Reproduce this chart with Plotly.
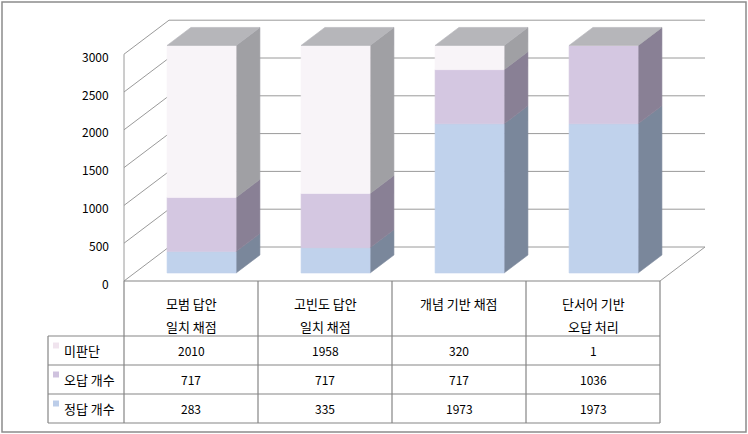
import plotly.graph_objects as go

# ---------------- data ----------------
categories = ["모범 답안\n일치 채점", "고빈도 답안\n일치 채점", "개념 기반 채점", "단서어 기반\n오답 처리"]
series_names = ["정답 개수", "오답 개수", "미판단"]          # stack order, bottom -> top
correct = [283, 335, 1973, 1973]
wrong = [717, 717, 717, 1036]
undecided = [2010, 1958, 320, 1]
y_ticks = [0, 500, 1000, 1500, 2000, 2500, 3000]
table_order = ["미판단", "오답 개수", "정답 개수"]          # table rows, top -> bottom

series_values = {"정답 개수": correct, "오답 개수": wrong, "미판단": undecided}

# ---------------- styles / geometry ----------------
front_col = {"정답 개수": "#C0D2EC", "오답 개수": "#D4C7E1", "미판단": "#F8F4F8"}
side_col = {"정답 개수": "#7A879B", "오답 개수": "#898095", "미판단": "#A0A0A4"}
key_col = {"정답 개수": "#BCCDE9", "오답 개수": "#CFC2DE", "미판단": "#F0E4EE"}
top_col = "#B6B6BA"
grid_col = "#9A9A9A"
line_col = "#858585"
FONT = "Noto Sans CJK KR"
KO_SIZE = 13
NUM_SIZE = 12

W, H = 748, 434
X0PX, CATPX = 124, 134          # front-left floor corner (px), px per category
Y0PX, KPX = 281, 37.8 / 500     # front floor level (px), px per value unit


def X(px):
    return (px - X0PX) / CATPX - 0.5


def Y(py):
    return (Y0PX - py) / KPX


DX = 45 / CATPX      # full depth in x units
DV = 34 / KPX        # full depth in value units
F0, F1 = 8 / 34, 26 / 34
BAR_W = 69 / CATPX
N = len(categories)
YMAX = max(y_ticks)

fig = go.Figure()


def poly(xs, ys, color, lw=0.6):
    fig.add_trace(go.Scatter(
        x=list(xs) + [xs[0]], y=list(ys) + [ys[0]], mode="lines",
        fill="toself", fillcolor=color, line=dict(color=color, width=lw),
        hoverinfo="skip", showlegend=False))


def seg(x0, y0, x1, y1, color=grid_col, width=1):
    fig.add_shape(type="line", x0=x0, y0=y0, x1=x1, y1=y1, xref="x", yref="y",
                  line=dict(color=color, width=width), layer="below")


# walls / grid
for v in y_ticks:
    seg(-0.5, v, -0.5 + DX, v + DV)
    seg(-0.5 + DX, v + DV, N - 0.5 + DX, v + DV)
seg(-0.5, 0, -0.5, YMAX)
seg(N - 0.5, 0, N - 0.5 + DX, DV)

# bars
for i in range(N):
    xl = i - BAR_W / 2
    xr = i + BAR_W / 2
    base = 0
    for name in series_names:
        v = series_values[name][i]
        b, t = base, base + v
        # side
        poly([xr + F0 * DX, xr + F1 * DX, xr + F1 * DX, xr + F0 * DX],
             [b + F0 * DV, b + F1 * DV, t + F1 * DV, t + F0 * DV], side_col[name])
        # front
        poly([xl + F0 * DX, xr + F0 * DX, xr + F0 * DX, xl + F0 * DX],
             [b + F0 * DV, b + F0 * DV, t + F0 * DV, t + F0 * DV], front_col[name])
        base = t
    T = base
    poly([xl + F0 * DX, xr + F0 * DX, xr + F1 * DX, xl + F1 * DX],
         [T + F0 * DV, T + F0 * DV, T + F1 * DV, T + F1 * DV], top_col)

# y tick labels
for v in y_ticks:
    fig.add_annotation(x=X(111), y=v - 2 / KPX, text=str(v), showarrow=False,
                       xanchor="right", yanchor="middle",
                       font=dict(family=FONT, size=NUM_SIZE, color="#000000"))

# ---------------- data table ----------------
ROW_TOP = 281
HDR_BOT = 336
ROW_H = 29
LEG_L = 48
rows_y = [HDR_BOT + k * ROW_H for k in range(len(table_order) + 1)]

# horizontal lines
seg(-0.5, Y(ROW_TOP), N - 0.5, Y(ROW_TOP), line_col, 1.2)
for py in rows_y:
    seg(X(LEG_L), Y(py), N - 0.5, Y(py), line_col, 1.2)
# vertical lines
for k in range(N + 1):
    seg(k - 0.5, Y(ROW_TOP), k - 0.5, Y(rows_y[-1]), line_col, 1.2)
seg(X(LEG_L), Y(HDR_BOT), X(LEG_L), Y(rows_y[-1]), line_col, 1.2)

# header text
for i, cat in enumerate(categories):
    for j, line in enumerate(cat.split("\n")):
        fig.add_annotation(x=i, y=Y(303 + j * 23), text=line, showarrow=False,
                           xanchor="center", yanchor="middle",
                           font=dict(family=FONT, size=KO_SIZE, color="#000000"))

# rows
for r, name in enumerate(table_order):
    cy = (rows_y[r] + rows_y[r + 1]) / 2
    fig.add_shape(type="rect", x0=X(53), x1=X(59), y0=Y(cy - 8), y1=Y(cy - 2),
                  xref="x", yref="y", fillcolor=key_col[name], line=dict(width=0))
    fig.add_annotation(x=X(62), y=Y(cy), text=name, showarrow=False,
                       xanchor="left", yanchor="middle",
                       font=dict(family=FONT, size=KO_SIZE, color="#000000"))
    for i in range(N):
        fig.add_annotation(x=i, y=Y(cy), text=str(series_values[name][i]),
                           showarrow=False, xanchor="center", yanchor="middle",
                           font=dict(family=FONT, size=NUM_SIZE, color="#000000"))

# outer frame
fig.add_shape(type="rect", x0=X(2), x1=X(746), y0=Y(432), y1=Y(2),
              xref="x", yref="y", line=dict(color="#8C8C8C", width=1.5))

fig.update_layout(
    width=W, height=H, margin=dict(l=0, r=0, t=0, b=0),
    paper_bgcolor="white", plot_bgcolor="white",
    xaxis=dict(range=[X(0), X(W)], visible=False, fixedrange=True),
    yaxis=dict(range=[Y(H), Y(0)], visible=False, fixedrange=True),
    showlegend=False,
)

fig.write_html("out.html", config={"displayModeBar": False, "staticPlot": True},
               post_script="document.body.style.margin='0';document.body.style.overflow='hidden';")
